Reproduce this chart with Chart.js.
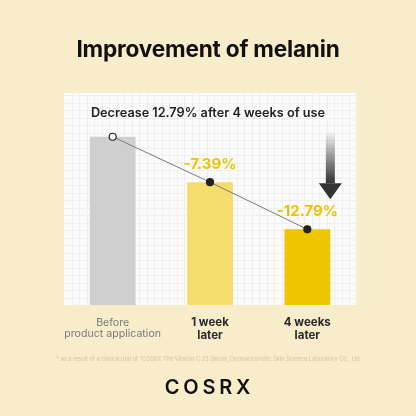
<!DOCTYPE html>
<html>
<head>
<meta charset="utf-8">
<script src="https://cdn.jsdelivr.net/npm/chart.js@4"></script>
<style>
  html, body { margin: 0; padding: 0; }
  body { width: 416px; height: 416px; background: #f8edca; position: relative; overflow: hidden; font-family: Inter, "Noto Sans", sans-serif; }
  #chart { position: absolute; left: 0; top: 0; }
  .txt { position: absolute; left: 0; width: 416px; text-align: center; white-space: nowrap; }
  #title { top: 35px; font-size: 22.6px; font-weight: 700; color: #111; letter-spacing: -0.2px; }
  #sub { top: 105px; font-size: 12.7px; font-weight: 600; color: #222; }
  #note { top: 356px; font-size: 5.6px; color: #cdc4a6; }
  #logo { top: 375px; font-size: 20px; font-weight: 600; color: #111; letter-spacing: 3.8px; padding-left: 3px; box-sizing: border-box; }
</style>
</head>
<body>
<canvas id="chart" width="416" height="416"></canvas>
<div class="txt" id="title">Improvement of melanin</div>
<div class="txt" id="sub">Decrease 12.79% after 4 weeks of use</div>
<div class="txt" id="note">* as a result of a clinical trial of "COSRX The Vitamin C 23 Serum_Dermacosmetic Skin Science Laboratory Co., Ltd</div>
<div class="txt" id="logo">COSRX</div>
<script>
const categories = [['Before', 'product application'], ['1 week', 'later'], ['4 weeks', 'later']];
const melanin = [100, 73, 45];
const changeLabels = ['', '-7.39%', '-12.79%'];
const barColors = ['#cfcfcf', '#f5dd6b', '#eec600'];

// grid paper background + arrow + change labels
const panelPlugin = {
    id: 'panel',
    beforeDraw(chart) {
        const { ctx, chartArea: a } = chart;
        ctx.save();
        ctx.fillStyle = '#fbfbfb';
        ctx.fillRect(a.left, a.top, a.right - a.left, a.bottom - a.top);
        ctx.strokeStyle = '#efefef';
        ctx.lineWidth = 1;
        const step = 7.5;
        ctx.beginPath();
        for (let x = a.left + step; x < a.right; x += step) {
            ctx.moveTo(Math.round(x) + 0.5, a.top);
            ctx.lineTo(Math.round(x) + 0.5, a.bottom);
        }
        for (let y = a.bottom - step; y > a.top; y -= step) {
            ctx.moveTo(a.left, Math.round(y) + 0.5);
            ctx.lineTo(a.right, Math.round(y) + 0.5);
        }
        ctx.stroke();
        ctx.restore();
    },
    afterDatasetsDraw(chart) {
        const { ctx } = chart;
        const bars = chart.getDatasetMeta(1).data;
        ctx.save();
        ctx.font = '700 15px Inter, "Noto Sans", sans-serif';
        ctx.fillStyle = '#eec200';
        ctx.textAlign = 'center';
        ctx.textBaseline = 'middle';
        bars.forEach((b, i) => {
            if (changeLabels[i]) ctx.fillText(changeLabels[i], b.x, b.y - 18);
        });

        // down arrow beside the last bar
        const last = bars[bars.length - 1];
        const ax = last.x + 23;
        const top = chart.chartArea.top + 38;
        const tip = last.y - 30;
        const headTop = tip - 16;
        const g = ctx.createLinearGradient(0, top, 0, headTop);
        g.addColorStop(0, 'rgba(51,51,51,0)');
        g.addColorStop(1, '#333');
        ctx.fillStyle = g;
        ctx.fillRect(ax - 4.5, top, 9, headTop - top);
        ctx.fillStyle = '#333';
        ctx.beginPath();
        ctx.moveTo(ax - 11.5, headTop);
        ctx.lineTo(ax + 11.5, headTop);
        ctx.lineTo(ax, tip);
        ctx.closePath();
        ctx.fill();
        ctx.restore();
    }
};

new Chart(document.getElementById('chart'), {
    data: {
        labels: categories,
        datasets: [{
            type: 'line',
            data: melanin,
            borderColor: '#7a7a7a',
            borderWidth: 1,
            pointRadius: 3.5,
            pointBorderWidth: 1.2,
            pointBorderColor: '#222',
            pointBackgroundColor: ['#ffffff', '#222', '#222'],
            order: 0
        }, {
            type: 'bar',
            data: melanin,
            backgroundColor: barColors,
            categoryPercentage: 1,
            barPercentage: 0.47,
            order: 1
        }]
    },
    plugins: [panelPlugin],
    options: {
        responsive: false,
        animation: false,
        layout: { padding: { left: 64, right: 60, top: 93, bottom: 71 } },
        plugins: { legend: { display: false }, tooltip: { enabled: false } },
        scales: {
            x: {
                grid: { display: false, drawTicks: false },
                border: { display: false },
                afterFit(scale) { scale.height = 40; },
                ticks: {
                    padding: 12,
                    maxRotation: 0,
                    minRotation: 0,
                    autoSkip: false,
                    color: (c) => c.index === 0 ? '#7a7a7a' : '#2a2a2a',
                    font: (c) => ({
                        family: 'Inter, "Noto Sans", sans-serif',
                        size: c.index === 0 ? 10.6 : 11.5,
                        weight: c.index === 0 ? '400' : '700',
                        lineHeight: 1.05
                    })
                }
            },
            y: { display: false, min: 0, max: 126 }
        }
    }
});
</script>
</body>
</html>
